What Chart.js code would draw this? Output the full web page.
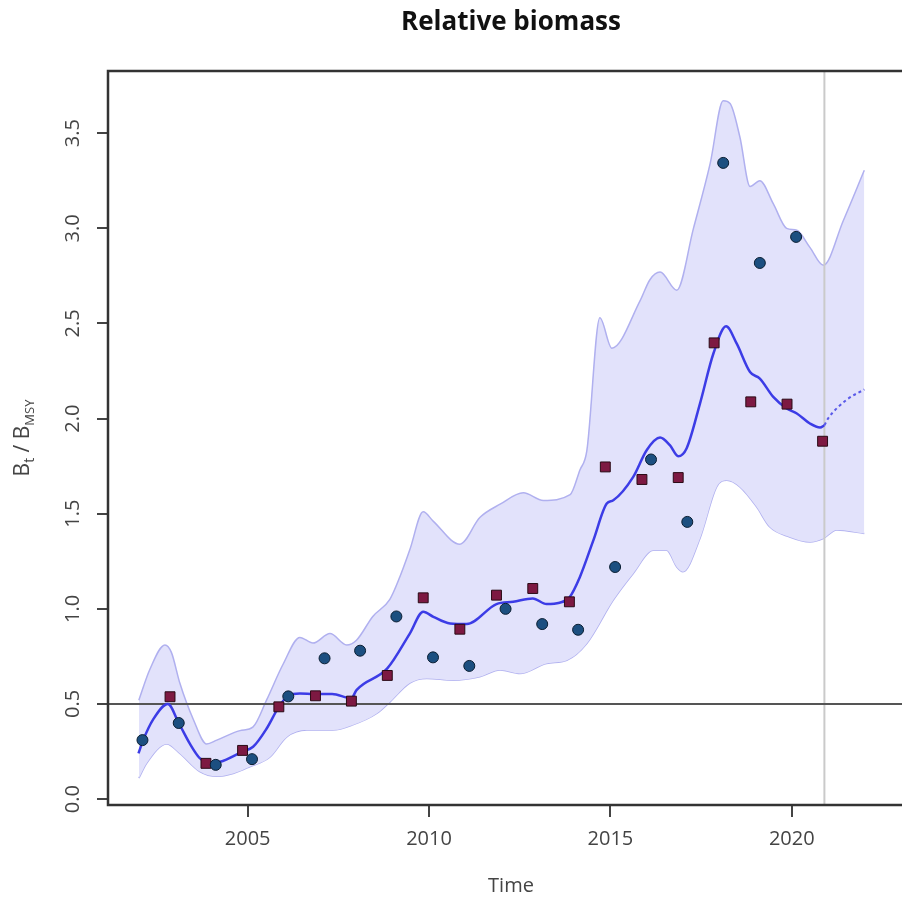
<!DOCTYPE html>
<html>
<head>
<meta charset="utf-8">
<title>Relative biomass</title>
<script src="https://cdn.jsdelivr.net/npm/chart.js@4.4.1/dist/chart.umd.min.js"></script>
<style>
  html, body { margin: 0; padding: 0; background: #fff; overflow: hidden; }
  #wrap { width: 924px; height: 900px; }
</style>
</head>
<body>
<div id="wrap"><canvas id="biomassChart" width="924" height="900"></canvas></div>
<script>
// values
const xTicks = [2005, 2010, 2015, 2020];
const yTicks = [0, 0.5, 1, 1.5, 2, 2.5, 3, 3.5];

// index 1 observations (circles)
const idx1Time = [2002.1, 2003.1, 2004.12, 2005.12, 2006.12, 2007.12, 2008.1, 2009.1, 2010.11, 2011.11,
  2012.11, 2013.12, 2014.11, 2015.13, 2016.12, 2017.12, 2018.11, 2019.12, 2020.12];
const idx1Value = [0.31, 0.40, 0.18, 0.21, 0.54, 0.74, 0.78, 0.96, 0.745, 0.70,
  1.0, 0.92, 0.89, 1.22, 1.785, 1.457, 3.344, 2.818, 2.955];

// index 2 observations (squares)
const idx2Time = [2002.86, 2003.85, 2004.86, 2005.86, 2006.87, 2007.86, 2008.85, 2009.84, 2010.85, 2011.86,
  2012.86, 2013.87, 2014.86, 2015.87, 2016.87, 2017.86, 2018.87, 2019.87, 2020.85];
const idx2Value = [0.538, 0.188, 0.256, 0.485, 0.543, 0.515, 0.65, 1.058, 0.893, 1.072,
  1.107, 1.037, 1.746, 1.68, 1.69, 2.398, 2.088, 2.076, 1.881];

// estimated B/Bmsy
const mainTime = [2001.99, 2002.12, 2002.4, 2002.8, 2003.1, 2003.41, 2003.68, 2003.96, 2004.24, 2004.86,
  2005.15, 2005.52, 2005.86, 2006.12, 2006.44, 2006.84, 2007.33, 2007.86, 2008.0, 2008.85,
  2009.47, 2009.84, 2010.12, 2010.58, 2011.04, 2011.86, 2012.32, 2012.86, 2013.24, 2013.6,
  2013.87, 2014.16, 2014.53, 2014.9, 2015.08, 2015.63, 2016.0, 2016.37, 2016.64, 2016.87,
  2017.1, 2017.47, 2017.84, 2018.19, 2018.48, 2018.85, 2019.12, 2019.49, 2019.86, 2020.14,
  2020.5, 2020.78, 2020.9];
const mainValue = [0.24, 0.31, 0.42, 0.50, 0.40, 0.29, 0.215, 0.19, 0.196, 0.25,
  0.275, 0.37, 0.485, 0.543, 0.555, 0.552, 0.552, 0.53, 0.573, 0.687,
  0.87, 0.985, 0.958, 0.923, 0.92, 1.025, 1.037, 1.055, 1.025, 1.032,
  1.06, 1.168, 1.36, 1.554, 1.571, 1.694, 1.834, 1.90, 1.86, 1.802,
  1.843, 2.079, 2.342, 2.485, 2.395, 2.245, 2.21, 2.114, 2.053, 2.027,
  1.974, 1.953, 1.965];

// projection (dotted)
const projTime = [2020.9, 2021.0, 2021.5, 2022.0];
const projValue = [1.965, 2.0, 2.097, 2.153];

// confidence band
const upperTime = [2002.0, 2002.3, 2002.72, 2002.9, 2003.13, 2003.5, 2003.87, 2004.15, 2004.79, 2005.15,
  2005.52, 2005.98, 2006.44, 2006.8, 2007.27, 2007.73, 2008.0, 2008.45, 2008.92, 2009.2,
  2009.47, 2009.84, 2010.12, 2010.85, 2011.4, 2011.96, 2012.6, 2013.15, 2013.89, 2014.16,
  2014.35, 2014.71, 2015.04, 2015.82, 2016.09, 2016.37, 2016.83, 2017.29, 2017.75, 2018.11,
  2018.3, 2018.57, 2018.85, 2019.12, 2019.49, 2019.86, 2020.14, 2020.5, 2020.87, 2021.42, 2022.0];
const upperValue = [0.52, 0.68, 0.81, 0.77, 0.61, 0.42, 0.29, 0.31, 0.36, 0.38,
  0.52, 0.71, 0.85, 0.82, 0.87, 0.81, 0.835, 0.96, 1.05, 1.17,
  1.31, 1.51, 1.46, 1.34, 1.48, 1.55, 1.61, 1.57, 1.60, 1.73,
  1.83, 2.53, 2.37, 2.62, 2.73, 2.77, 2.675, 3.0, 3.34, 3.67,
  3.656, 3.48, 3.22, 3.25, 3.13, 3.0, 2.99, 2.90, 2.806, 3.04, 3.305];

const lowerTime = [2002.0, 2002.22, 2002.77, 2003.13, 2003.68, 2004.15, 2004.6, 2005.06, 2005.61, 2006.08,
  2006.63, 2007.35, 2007.9, 2008.56, 2008.92, 2009.47, 2009.94, 2010.67, 2011.4, 2011.96,
  2012.51, 2013.24, 2013.8, 2014.35, 2015.08, 2015.63, 2016.18, 2016.55, 2016.83, 2017.0,
  2017.47, 2017.93, 2018.21, 2018.57, 2019.03, 2019.39, 2019.94, 2020.5, 2020.87, 2021.24, 2022.0];
const lowerValue = [0.11, 0.19, 0.29, 0.24, 0.145, 0.12, 0.135, 0.17, 0.22, 0.327,
  0.363, 0.363, 0.39, 0.45, 0.51, 0.61, 0.634, 0.625, 0.643, 0.678,
  0.66, 0.713, 0.73, 0.818, 1.046, 1.186, 1.308, 1.308, 1.22, 1.195,
  1.37, 1.641, 1.676, 1.641, 1.536, 1.431, 1.378, 1.352, 1.37, 1.414, 1.396];

const refLevel = 0.5;      // B/Bmsy = 0.5 line
const lastObsTime = 2020.9; // end of data (vertical line)

const xMin = 2001.15, xMax = 2023.37;
const yMin = -0.031, yMax = 3.827;

const pts = (xs, ys) => xs.map((x, i) => ({ x: x, y: ys[i] }));

Chart.defaults.font.family = "'Open Sans', sans-serif";
Chart.defaults.color = "#444";

// box, rotated y labels and y title
const framePlugin = {
  id: "frame",
  afterDatasetsDraw(chart) {
    const a = chart.chartArea;
    const ctx = chart.ctx;
    ctx.save();
    ctx.strokeStyle = "#333";
    ctx.lineWidth = 2.5;
    ctx.strokeRect(a.left, a.top, a.right - a.left, a.bottom - a.top);
    ctx.restore();
  },
  afterDraw(chart) {
    const ctx = chart.ctx;
    const yScale = chart.scales.y;
    ctx.save();
    ctx.fillStyle = "#444";
    ctx.font = "20px 'Open Sans', sans-serif";
    ctx.textAlign = "center";
    ctx.textBaseline = "middle";
    yTicks.forEach((v) => {
      const py = yScale.getPixelForValue(v);
      ctx.save();
      ctx.translate(73, py);
      ctx.rotate(-Math.PI / 2);
      ctx.fillText(v.toFixed(1), 0, 0);
      ctx.restore();
    });

    // B_t / B_MSY
    const cy = (chart.chartArea.top + chart.chartArea.bottom) / 2;
    ctx.translate(29, cy);
    ctx.rotate(-Math.PI / 2);
    ctx.textAlign = "left";
    ctx.textBaseline = "alphabetic";
    const parts = [
      { t: "B", size: 21, dy: 0 },
      { t: "t", size: 14, dy: 5 },
      { t: " / ", size: 21, dy: 0 },
      { t: "B", size: 21, dy: 0 },
      { t: "MSY", size: 13, dy: 5 }
    ];
    let total = 0;
    parts.forEach((p) => {
      ctx.font = p.size + "px 'Open Sans', sans-serif";
      p.w = ctx.measureText(p.t).width;
      total += p.w;
    });
    let px = -total / 2;
    parts.forEach((p) => {
      ctx.font = p.size + "px 'Open Sans', sans-serif";
      ctx.fillText(p.t, px, p.dy);
      px += p.w;
    });
    ctx.restore();
  }
};

const ctx = document.getElementById("biomassChart").getContext("2d");
new Chart(ctx, {
  type: "line",
  data: {
    datasets: [
      {
        label: "Index 1",
        data: pts(idx1Time, idx1Value),
        showLine: false,
        pointStyle: "circle",
        pointRadius: 5.5,
        pointBackgroundColor: "#1c4f80",
        pointBorderColor: "#0b1f33",
        pointBorderWidth: 1
      },
      {
        label: "Index 2",
        data: pts(idx2Time, idx2Value),
        showLine: false,
        pointStyle: "rect",
        pointRadius: 7,
        pointBackgroundColor: "#7d1942",
        pointBorderColor: "#2a0a15",
        pointBorderWidth: 1
      },
      {
        label: "B/Bmsy",
        data: pts(mainTime, mainValue),
        borderColor: "#3c3ce6",
        borderWidth: 2.5,
        pointRadius: 0,
        cubicInterpolationMode: "monotone",
        fill: false
      },
      {
        label: "Prediction",
        data: pts(projTime, projValue),
        borderColor: "#5a5ae8",
        borderWidth: 2,
        borderDash: [3, 3],
        pointRadius: 0,
        cubicInterpolationMode: "monotone",
        fill: false
      },
      {
        label: "0.5 Bmsy",
        data: [{ x: xMin, y: refLevel }, { x: xMax, y: refLevel }],
        borderColor: "#555",
        borderWidth: 2,
        pointRadius: 0,
        fill: false
      },
      {
        label: "Last data",
        data: [{ x: lastObsTime, y: yMin }, { x: lastObsTime, y: yMax }],
        borderColor: "#cacaca",
        borderWidth: 2,
        pointRadius: 0,
        fill: false
      },
      {
        label: "Upper CI",
        data: pts(upperTime, upperValue),
        borderColor: "#b0b0ef",
        borderWidth: 1.5,
        pointRadius: 0,
        cubicInterpolationMode: "monotone",
        backgroundColor: "#e2e2fb",
        fill: "+1"
      },
      {
        label: "Lower CI",
        data: pts(lowerTime, lowerValue),
        borderColor: "#b0b0ef",
        borderWidth: 1.5,
        pointRadius: 0,
        cubicInterpolationMode: "monotone",
        fill: false
      }
    ]
  },
  options: {
    responsive: false,
    animation: false,
    layout: { padding: { left: 0, right: 10, top: 0, bottom: 0 } },
    plugins: {
      legend: { display: false },
      tooltip: { enabled: false },
      title: {
        display: true,
        text: "Relative biomass",
        fullSize: false,
        color: "#111",
        font: { size: 26, weight: "bold" },
        padding: { top: 6.5, bottom: 33.3 }
      }
    },
    scales: {
      x: {
        type: "linear",
        min: xMin,
        max: xMax,
        afterBuildTicks: (scale) => { scale.ticks = xTicks.map((v) => ({ value: v })); },
        afterFit: (scale) => { scale.height = 95; },
        ticks: {
          color: "#444",
          font: { size: 20 },
          padding: 10,
          maxRotation: 0,
          callback: (v) => String(v)
        },
        grid: { drawOnChartArea: false, drawTicks: true, tickLength: 12, color: "#444", lineWidth: 2 },
        border: { display: false },
        title: {
          display: true,
          text: "Time",
          color: "#444",
          font: { size: 20 },
          padding: { top: 0, bottom: 2 }
        }
      },
      y: {
        type: "linear",
        min: yMin,
        max: yMax,
        afterBuildTicks: (scale) => { scale.ticks = yTicks.map((v) => ({ value: v })); },
        afterFit: (scale) => { scale.width = 108; },
        ticks: { display: false },
        grid: { drawOnChartArea: false, drawTicks: true, tickLength: 11, color: "#444", lineWidth: 2 },
        border: { display: false }
      }
    }
  },
  plugins: [framePlugin]
});
</script>
</body>
</html>
